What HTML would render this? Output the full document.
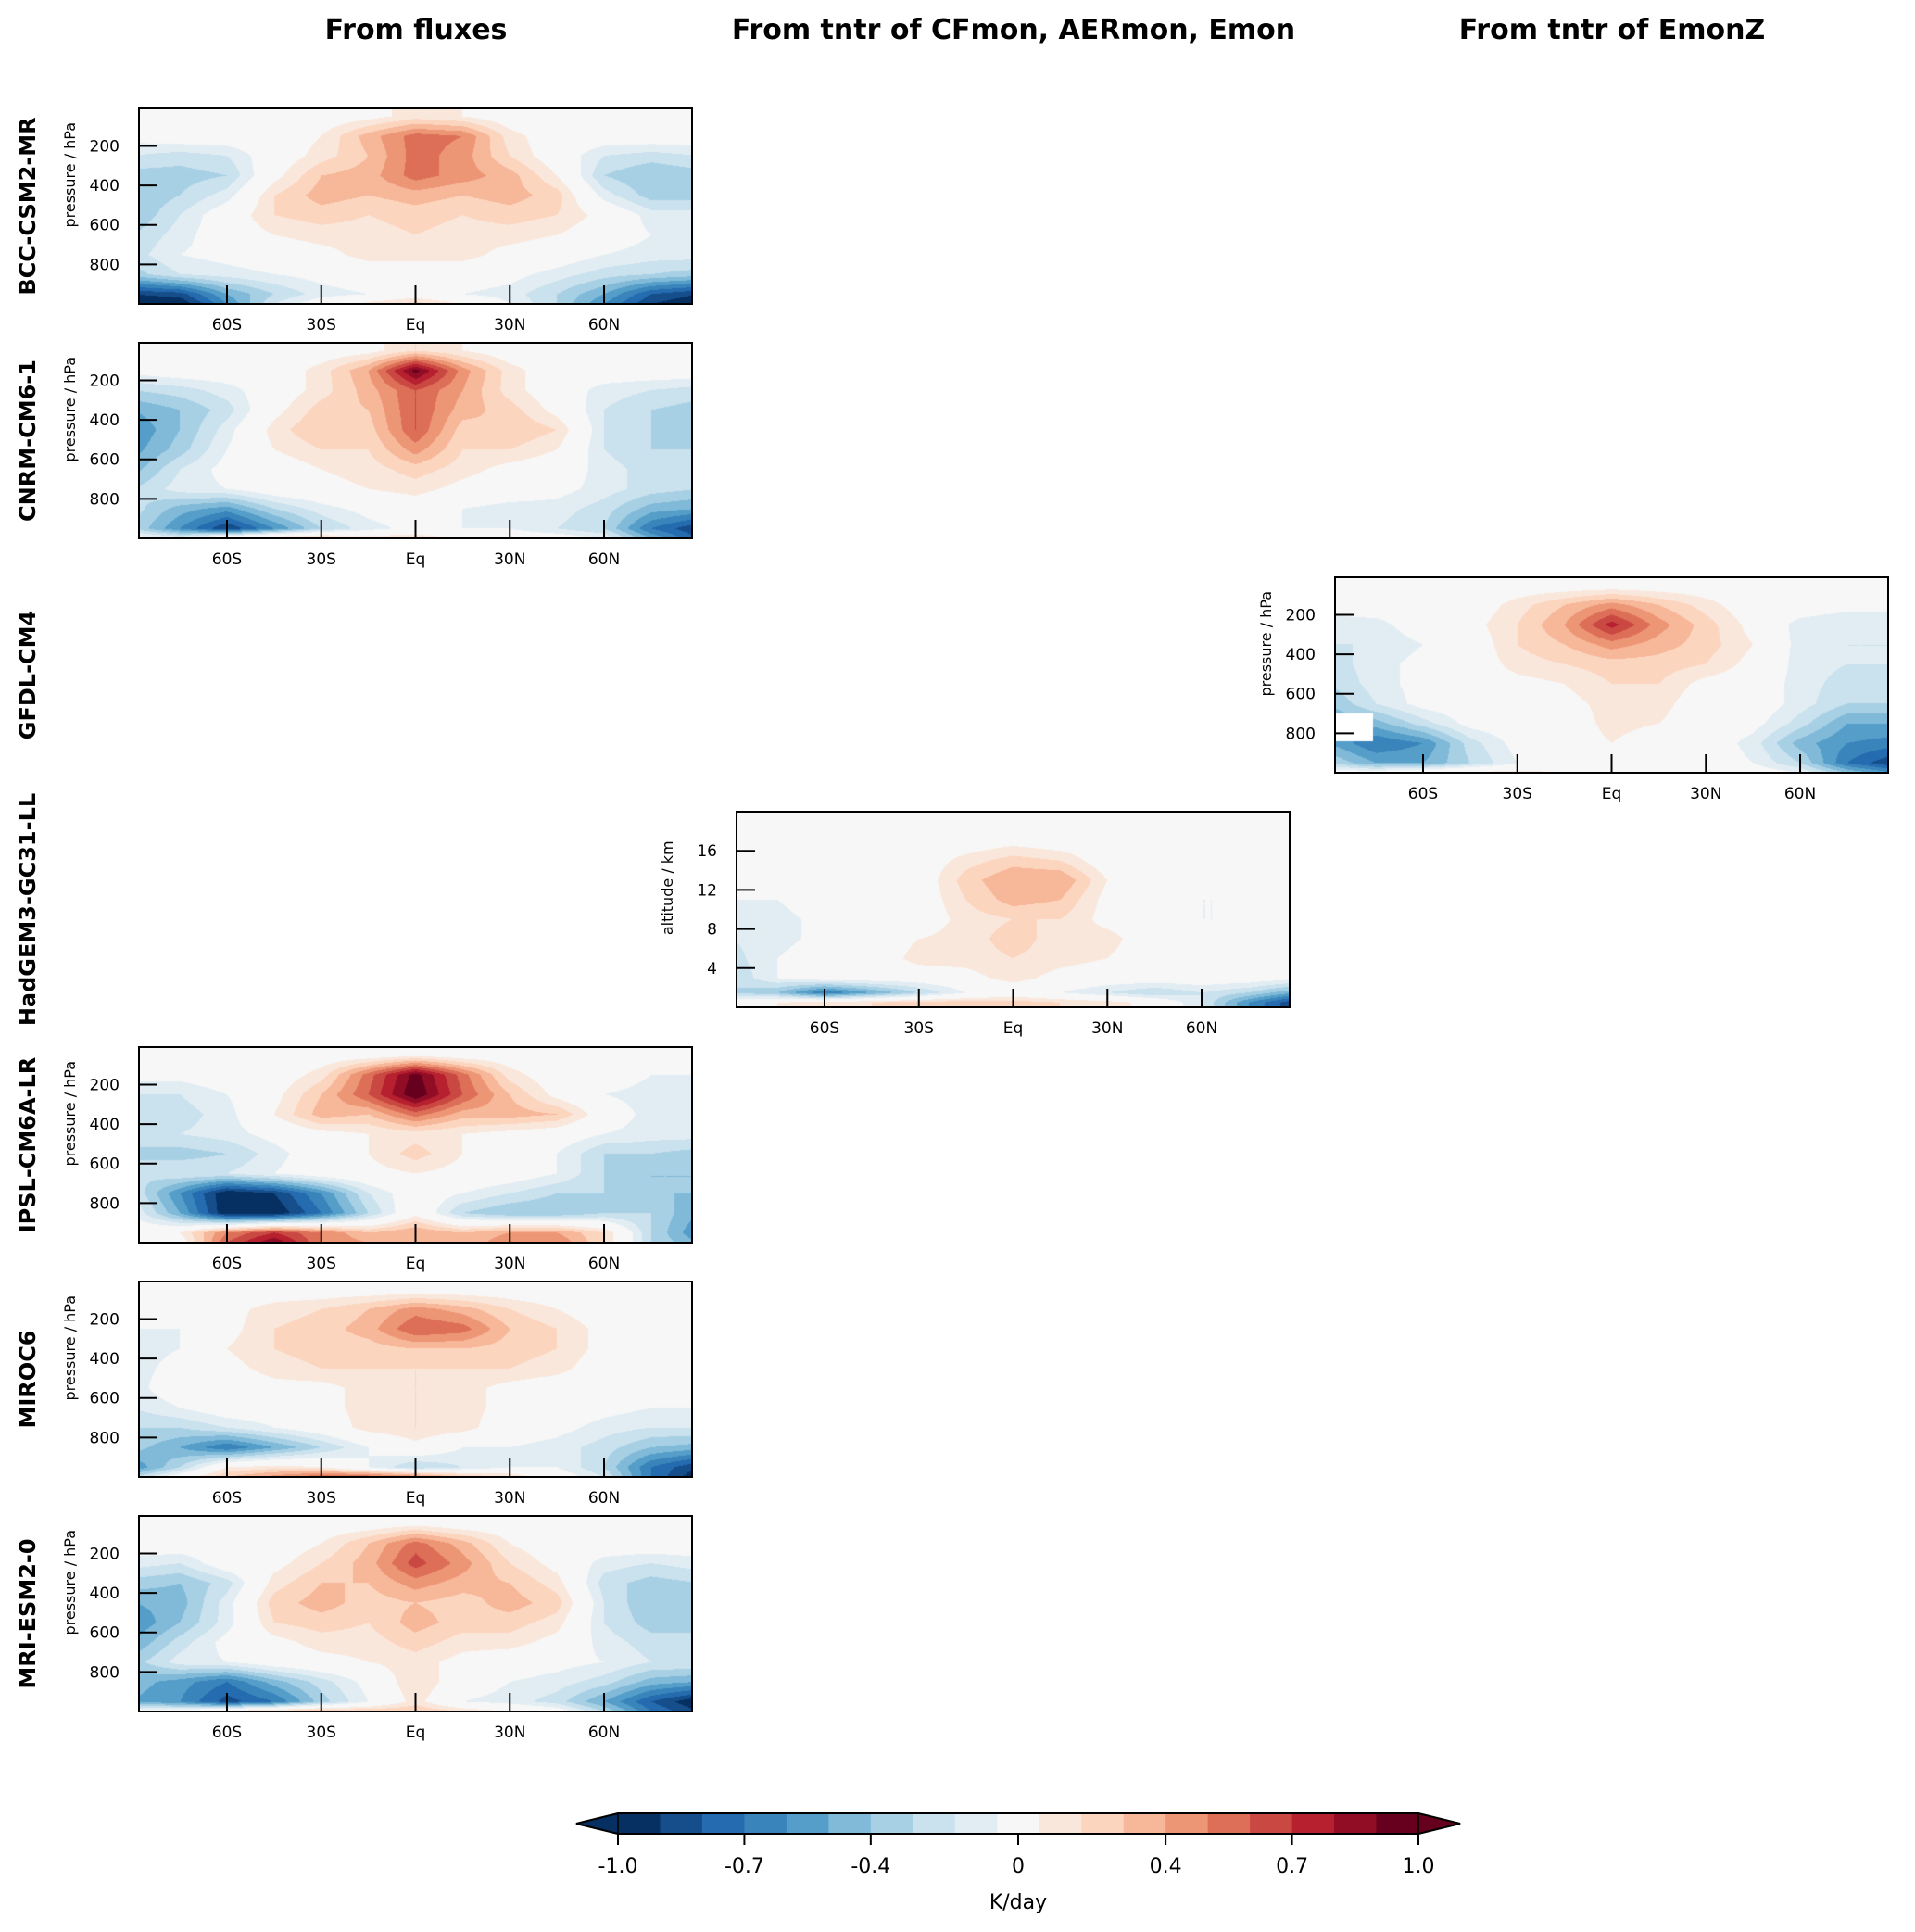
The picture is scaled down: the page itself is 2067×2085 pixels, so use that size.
<!DOCTYPE html>
<html><head><meta charset="utf-8">
<style>
html,body{margin:0;padding:0;background:#fff;}
#wrap{position:relative;width:2067px;height:2085px;overflow:hidden;font-family:"DejaVu Sans","Liberation Sans",sans-serif;}
canvas{position:absolute;}
svg{position:absolute;left:0;top:0;font-family:"DejaVu Sans","Liberation Sans",sans-serif;}
</style></head>
<body>
<div id="wrap">
<svg id="ov" width="2067" height="2085"></svg>
</div>
<script>
// ---- data ----
const lats = [-90,-75,-60,-45,-30,-15,0,15,30,45,60,75,90];
const plev = [50,150,250,350,450,550,650,750,850,950,1000];
const zlev = [19,17,15,13,11,9,7,5,3,1.5,0.5];
const xTicks = [-60,-30,0,30,60];
const xTickLabels = ["60S","30S","Eq","30N","60N"];
const pTicks = [200,400,600,800];
const zTicks = [4,8,12,16];
const cbLevels = [-1,-0.9,-0.8,-0.7,-0.6,-0.5,-0.4,-0.3,-0.2,-0.1,0.1,0.2,0.3,0.4,0.5,0.6,0.7,0.8,0.9,1];
const cbTicks = [-1.0,-0.7,-0.4,0,0.4,0.7,1.0];
const cbTickLabels = ["-1.0","-0.7","-0.4","0","0.4","0.7","1.0"];
const colTitles = ["From fluxes","From tntr of CFmon, AERmon, Emon","From tntr of EmonZ"];
const rowNames = ["BCC-CSM2-MR","CNRM-CM6-1","GFDL-CM4","HadGEM3-GC31-LL","IPSL-CM6A-LR","MIROC6","MRI-ESM2-0"];

const bcc = [
[0,0,0,0,0,0.05,0.15,0.1,0,0,0,0,0],
[-0.05,0,0,0,0.1,0.35,0.55,0.5,0.15,0,0,0,0],
[-0.2,-0.25,-0.2,0,0.15,0.3,0.55,0.45,0.2,0,-0.2,-0.25,-0.2],
[-0.35,-0.35,-0.3,0.05,0.3,0.35,0.55,0.45,0.35,0.1,-0.3,-0.4,-0.35],
[-0.4,-0.3,-0.15,0.2,0.35,0.3,0.35,0.3,0.35,0.25,-0.15,-0.35,-0.35],
[-0.4,-0.2,0,0.2,0.25,0.2,0.25,0.2,0.25,0.2,0.05,-0.15,-0.15],
[-0.3,-0.15,0,0.1,0.15,0.15,0.2,0.15,0.15,0.1,0,-0.1,-0.1],
[-0.25,-0.1,-0.05,0,0.05,0.15,0.15,0.15,0.05,0,-0.1,-0.15,-0.15],
[-0.35,-0.2,-0.15,-0.1,-0.05,0,0,0,-0.05,-0.15,-0.25,-0.3,-0.35],
[-0.9,-0.85,-0.5,-0.3,-0.15,-0.1,0,-0.1,-0.15,-0.3,-0.5,-0.8,-0.9],
[-1,-1,-0.6,-0.2,0,0.15,0.25,0.1,-0.1,-0.3,-0.6,-0.9,-1]];
const cnrm = [
[0,0,0,0,0,0.05,0.2,0.1,0,0,0,0,0],
[-0.05,0,0,0,0.15,0.4,0.95,0.45,0.15,0,0,0,0],
[-0.3,-0.25,-0.15,0,0.15,0.35,0.6,0.4,0.15,0,-0.15,-0.2,-0.25],
[-0.5,-0.4,-0.25,0.05,0.25,0.3,0.6,0.35,0.25,0.05,-0.2,-0.3,-0.35],
[-0.6,-0.4,-0.15,0.15,0.3,0.25,0.6,0.25,0.3,0.2,-0.2,-0.3,-0.35],
[-0.55,-0.35,-0.1,0.1,0.2,0.2,0.45,0.2,0.2,0.1,-0.2,-0.3,-0.3],
[-0.45,-0.2,-0.05,0,0.1,0.15,0.25,0.15,0.05,0,-0.15,-0.25,-0.3],
[-0.3,-0.15,-0.1,0,0.05,0.1,0.15,0.05,0,-0.05,-0.15,-0.25,-0.3],
[-0.25,-0.45,-0.55,-0.3,-0.15,-0.05,0,-0.1,-0.15,-0.15,-0.25,-0.45,-0.5],
[-0.3,-0.6,-0.9,-0.6,-0.3,-0.15,-0.05,-0.1,-0.1,-0.2,-0.3,-0.7,-0.9],
[0,-0.1,0.2,0.3,0.3,0.2,0.2,0.1,0,0,-0.1,-0.5,-0.8]];
const gfdl = [
[0,0,0,0,0,0,0,0,0,0,0,0,0],
[-0.05,0,0,0,0.15,0.3,0.45,0.3,0.15,0,0,-0.05,-0.05],
[-0.15,-0.15,0,0.05,0.2,0.4,0.75,0.45,0.25,0.05,-0.15,-0.2,-0.2],
[-0.2,-0.2,-0.1,0,0.2,0.3,0.45,0.35,0.25,0.1,-0.15,-0.2,-0.2],
[-0.25,-0.15,-0.05,0,0.15,0.2,0.25,0.25,0.2,0.05,-0.15,-0.2,-0.2],
[-0.3,-0.15,-0.05,0,0.05,0.1,0.2,0.2,0.05,0,-0.15,-0.25,-0.25],
[-0.4,-0.2,-0.05,0,0,0.05,0.15,0.15,0,0,-0.15,-0.3,-0.3],
[-0.5,-0.45,-0.25,-0.05,0,0,0.15,0.1,0,-0.05,-0.25,-0.5,-0.5],
[-0.5,-0.7,-0.6,-0.25,-0.05,0,0.1,0,0,-0.15,-0.45,-0.6,-0.65],
[-0.3,-0.5,-0.5,-0.3,-0.1,0,0,0,0,-0.1,-0.3,-0.7,-0.9],
[0,0,0.1,0.15,0.15,0.1,0.05,0.05,0.05,0,-0.1,-0.4,-0.6]];
const gfdlMask = [-90,-76,700,840];
const hadgem = [
[0,0,0,0,0,0,0,0,0,0,0,0,0],
[0,0,0,0,0,0,0.05,0,0,0,0,0,0],
[0,0,0,0,0,0.15,0.25,0.2,0,0,0,0,0],
[0,0,0,0,0,0.25,0.4,0.4,0.1,0,0,0,0],
[-0.1,-0.1,0,0,0,0.2,0.35,0.3,0.05,0,-0.1,-0.1,-0.1],
[-0.15,-0.15,-0.05,0,0,0.15,0.2,0.2,0.05,0,-0.1,-0.1,-0.1],
[-0.2,-0.15,-0.05,0,0.1,0.15,0.25,0.15,0.15,0,0,-0.05,-0.1],
[-0.25,-0.1,0,0,0.15,0.15,0.2,0.15,0.1,0,0,0,0],
[-0.3,-0.1,0,0,0,0.05,0.15,0.05,0,0,0,0,-0.05],
[-0.3,-0.4,-0.7,-0.5,-0.3,-0.1,0,-0.1,-0.2,-0.3,-0.2,-0.3,-0.5],
[0,0.1,0.15,0.2,0.25,0.25,0.25,0.2,0.15,0.05,-0.2,-0.6,-0.9]];
const ipsl = [
[0,0,0,0,0,0,0.05,0,0,0,0,0,0],
[-0.05,-0.05,0,0,0.15,0.55,0.95,0.55,0.15,0,0,-0.1,-0.1],
[-0.2,-0.2,-0.1,0.05,0.3,0.6,1.0,0.6,0.3,0.05,-0.1,-0.15,-0.15],
[-0.3,-0.25,-0.15,0.1,0.35,0.3,0.55,0.35,0.35,0.3,0,-0.15,-0.15],
[-0.3,-0.2,-0.15,-0.05,0.05,0.1,0.15,0.1,0.05,0,-0.1,-0.15,-0.15],
[-0.3,-0.35,-0.3,-0.15,0,0.1,0.25,0.1,0,-0.1,-0.3,-0.3,-0.35],
[-0.3,-0.2,-0.2,-0.1,0,0.05,0.1,0.05,0,-0.1,-0.3,-0.4,-0.4],
[-0.2,-0.6,-1.0,-0.9,-0.6,-0.2,0,-0.1,-0.2,-0.3,-0.3,-0.4,-0.4],
[-0.1,-0.5,-1.0,-1.0,-0.7,-0.3,0.05,-0.3,-0.4,-0.4,-0.3,-0.3,-0.5],
[0,0.1,0.5,0.7,0.5,0.3,0.4,0.3,0.4,0.4,0.2,-0.3,-0.6],
[0,0,0.6,0.9,0.5,0.4,0.3,0.3,0.5,0.5,0.2,-0.3,-0.5]];
const miroc = [
[0,0,0,0,0,0,0,0,0,0,0,0,0],
[0,0,0.05,0.15,0.2,0.3,0.45,0.35,0.2,0.1,0,-0.05,-0.05],
[-0.1,-0.1,0.05,0.2,0.25,0.35,0.6,0.55,0.3,0.2,0.05,-0.1,-0.1],
[-0.15,-0.1,0.1,0.2,0.25,0.25,0.3,0.3,0.25,0.2,0.05,-0.1,-0.1],
[-0.15,-0.05,0.05,0.15,0.2,0.2,0.2,0.2,0.2,0.15,0,-0.05,-0.05],
[-0.15,0,0,0.05,0.05,0.15,0.2,0.15,0.05,0,0,-0.05,-0.05],
[-0.2,-0.1,0,0,0.05,0.15,0.2,0.15,0.05,0,-0.05,-0.1,-0.1],
[-0.3,-0.3,-0.2,-0.1,0,0.15,0.2,0.15,0,-0.05,-0.15,-0.2,-0.2],
[-0.35,-0.5,-0.7,-0.5,-0.3,-0.1,0.05,-0.1,-0.1,-0.15,-0.25,-0.4,-0.45],
[-0.6,-0.3,0.1,0.15,0.1,-0.1,-0.3,-0.2,-0.1,-0.1,-0.3,-0.7,-0.9],
[-0.3,0,0.3,0.45,0.6,0.6,0.5,0.3,0.2,0,-0.2,-0.7,-1.0]];
const mri = [
[0,0,0,0,0,0,0.05,0,0,0,0,0,0],
[0,0,0,0,0.1,0.3,0.55,0.35,0.1,0,0,0,0],
[-0.15,-0.2,0,0.05,0.2,0.35,0.65,0.45,0.2,0.05,-0.15,-0.2,-0.15],
[-0.35,-0.4,-0.25,0.15,0.3,0.3,0.45,0.35,0.3,0.15,-0.25,-0.35,-0.3],
[-0.5,-0.45,-0.15,0.25,0.35,0.25,0.3,0.25,0.35,0.25,-0.2,-0.4,-0.35],
[-0.6,-0.4,-0.15,0.2,0.25,0.2,0.35,0.25,0.25,0.15,-0.2,-0.35,-0.35],
[-0.5,-0.25,-0.05,0.05,0.15,0.15,0.25,0.15,0.15,0.05,-0.15,-0.25,-0.25],
[-0.35,-0.15,-0.1,0,0.05,0.1,0.15,0.05,0,-0.05,-0.1,-0.2,-0.2],
[-0.45,-0.55,-0.7,-0.45,-0.25,-0.05,0.2,0,-0.1,-0.15,-0.25,-0.45,-0.5],
[-0.5,-0.6,-0.85,-0.7,-0.35,-0.1,0.15,-0.1,-0.15,-0.25,-0.5,-0.8,-1.0],
[0,0,0.2,0.3,0.35,0.3,0.3,0.2,0.1,0,-0.3,-0.7,-0.9]];

// ---- layout ----
const colX = [150, 795, 1441];
const rowY = [117, 370, 623, 876, 1130, 1383, 1636];
const PW = 597, PH = 211;
const LAT0 = -88, LAT1 = 88;
const panels = [
 {row:0,col:0,data:bcc,vert:'p',name:'bcc'},
 {row:1,col:0,data:cnrm,vert:'p',name:'cnrm'},
 {row:2,col:2,data:gfdl,vert:'p',name:'gfdl',mask:gfdlMask},
 {row:3,col:1,data:hadgem,vert:'z',name:'hadgem'},
 {row:4,col:0,data:ipsl,vert:'p',name:'ipsl'},
 {row:5,col:0,data:miroc,vert:'p',name:'miroc'},
 {row:6,col:0,data:mri,vert:'p',name:'mri'}];

const anchors = ["#053061","#2166ac","#4393c3","#92c5de","#d1e5f0","#f7f7f7","#fddbc7","#f4a582","#d6604d","#b2182b","#67001f"];
function hx(h){return [parseInt(h.substr(1,2),16),parseInt(h.substr(3,2),16),parseInt(h.substr(5,2),16)];}
function cmap(t){const n=anchors.length-1;const f=Math.min(n-1e-9,Math.max(0,t*n));const i=Math.floor(f),u=f-i;const a=hx(anchors[i]),b=hx(anchors[i+1]);return [0,1,2].map(k=>Math.round(a[k]+(b[k]-a[k])*u));}
const nBins = cbLevels.length-1;
const binColors = []; for(let i=0;i<nBins;i++) binColors.push(cmap(i/(nBins-1)));
function binOf(v){if(v<cbLevels[0])return 0;for(let i=0;i<nBins;i++){if(v<cbLevels[i+1])return i;}return nBins-1;}
const rgb=c=>`rgb(${c[0]},${c[1]},${c[2]})`;

const xScale = (lat,x0)=> x0 + (lat-LAT0)/(LAT1-LAT0)*PW;
const pScale = (p,y0)=> y0 + (p-10)/(1000-10)*PH;
const zScale = (z,y0)=> y0 + (20-z)/20*PH;

function interp1(arr,v){
  const inc = arr[arr.length-1]>arr[0];
  if(inc){ if(v<=arr[0])return [0,0]; if(v>=arr[arr.length-1])return [arr.length-2,1];
    for(let i=0;i<arr.length-1;i++) if(v<=arr[i+1]) return [i,(v-arr[i])/(arr[i+1]-arr[i])]; }
  else { if(v>=arr[0])return [0,0]; if(v<=arr[arr.length-1])return [arr.length-2,1];
    for(let i=0;i<arr.length-1;i++) if(v>=arr[i+1]) return [i,(v-arr[i])/(arr[i+1]-arr[i])]; }
  return [0,0];
}

const wrap = document.getElementById('wrap');
const svg = document.getElementById('ov');
const NS='http://www.w3.org/2000/svg';
function S(tag,attrs,parent){const e=document.createElementNS(NS,tag);for(const k in attrs)e.setAttribute(k,attrs[k]);(parent||svg).appendChild(e);return e;}

panels.forEach(P=>{
  const x0=colX[P.col], y0=rowY[P.row];
  const cv=document.createElement('canvas');
  cv.width=PW; cv.height=PH; cv.style.left=x0+'px'; cv.style.top=y0+'px';
  
  
  wrap.insertBefore(cv, svg);
  const ctx=cv.getContext('2d'); const img=ctx.createImageData(PW,PH);
  const vArr = P.vert==='p'?plev:zlev;
  for(let py=0;py<PH;py++){
    const vv = P.vert==='p' ? 10+(py+0.5)/PH*990 : 20-(py+0.5)/PH*20;
    let [j,uj]=interp1(vArr,vv);
    for(let px=0;px<PW;px++){
      const lat=LAT0+(px+0.5)/PW*(LAT1-LAT0);
      let [i,ui]=interp1(lats,lat);
      const d=P.data;
      const v=(d[j][i]*(1-ui)+d[j][i+1]*ui)*(1-uj)+(d[j+1][i]*(1-ui)+d[j+1][i+1]*ui)*uj;
      let c=binColors[binOf(v)];
      if(P.mask && lat>=P.mask[0] && lat<=P.mask[1] && vv>=P.mask[2] && vv<=P.mask[3]) c=[255,255,255];
      const o=(py*PW+px)*4; img.data[o]=c[0];img.data[o+1]=c[1];img.data[o+2]=c[2];img.data[o+3]=255;
    }
  }
  ctx.putImageData(img,0,0);
  const g=S('g',{});
  
  
  const fr=S('rect',{x:x0,y:y0,width:PW,height:PH,fill:'none',stroke:'#000','stroke-width':2},g);
  
  
  xTicks.forEach((t,k)=>{
    const x=xScale(t,x0);
    const tk=S('line',{x1:x,x2:x,y1:y0+PH,y2:y0+PH-20,stroke:'#000','stroke-width':2},g);
    
    
    const tl=S('text',{x:x,y:y0+PH+28,'text-anchor':'middle','font-size':17},g);
    tl.textContent=xTickLabels[k];
    
    
  });
  const yt = P.vert==='p'?pTicks:zTicks;
  yt.forEach(t=>{
    const y = P.vert==='p'?pScale(t,y0):zScale(t,y0);
    const tk=S('line',{x1:x0,x2:x0+20,y1:y,y2:y,stroke:'#000','stroke-width':2},g);
    
    
    const tl=S('text',{x:x0-21,y:y+6,'text-anchor':'end','font-size':17},g);
    tl.textContent=String(t);
    
    
  });
  const ly = y0 + (P.vert==='p'?0.34:0.39)*PH;
  const yl=S('text',{x:0,y:0,'text-anchor':'middle','font-size':16,transform:`translate(${x0-69},${ly}) rotate(-90)`},g);
  yl.textContent = P.vert==='p'?'pressure / hPa':'altitude / km';
  
  
});

const titleCx=[449,1094,1740];
colTitles.forEach((t,i)=>{
  const e=S('text',{x:titleCx[i],y:42,'text-anchor':'middle','font-size':30,'font-weight':'bold'});
  e.textContent=t;
  
  
});
rowNames.forEach((t,i)=>{
  const cy=rowY[i]+PH/2;
  const e=S('text',{x:0,y:0,'text-anchor':'middle','font-size':24,'font-weight':'bold',transform:`translate(38,${cy}) rotate(-90)`});
  e.textContent=t;
  
  
});

const cbL=667, cbR=1531, cbT=1957, cbB=1979, cbW=(cbR-cbL)/nBins;
const cb=S('g',{});


for(let i=0;i<nBins;i++){
  const r=S('rect',{x:cbL+i*cbW,y:cbT,width:cbW+0.5,height:cbB-cbT,fill:rgb(binColors[i])},cb);
  
  
}
const cm=(cbT+cbB)/2;
const tl=S('polygon',{points:`${cbL},${cbT} ${cbL-45},${cm} ${cbL},${cbB}`,fill:rgb(binColors[0]),stroke:'#000','stroke-width':1.5},cb);


const tr=S('polygon',{points:`${cbR},${cbT} ${cbR+45},${cm} ${cbR},${cbB}`,fill:rgb(binColors[nBins-1]),stroke:'#000','stroke-width':1.5},cb);


const cbo=S('polygon',{points:`${cbL-45},${cm} ${cbL},${cbT} ${cbR},${cbT} ${cbR+45},${cm} ${cbR},${cbB} ${cbL},${cbB}`,fill:'none',stroke:'#000','stroke-width':2},cb);


function cbX(v){const i=binOf(v);const k=Math.min(i,nBins-1);const u=(v-cbLevels[k])/(cbLevels[k+1]-cbLevels[k]);return cbL+(k+Math.max(0,Math.min(1,u)))*cbW;}
cbTicks.forEach((t,k)=>{
  const x=cbX(t);
  const l=S('line',{x1:x,x2:x,y1:cbB,y2:cbB+12,stroke:'#000','stroke-width':2},cb);
  
  
  const tx=S('text',{x:x,y:2021,'text-anchor':'middle','font-size':22},cb);
  tx.textContent=cbTickLabels[k];
  
  
});
const cl=S('text',{x:1099,y:2060,'text-anchor':'middle','font-size':22},cb);
cl.textContent='K/day';


</script>
</body></html>
